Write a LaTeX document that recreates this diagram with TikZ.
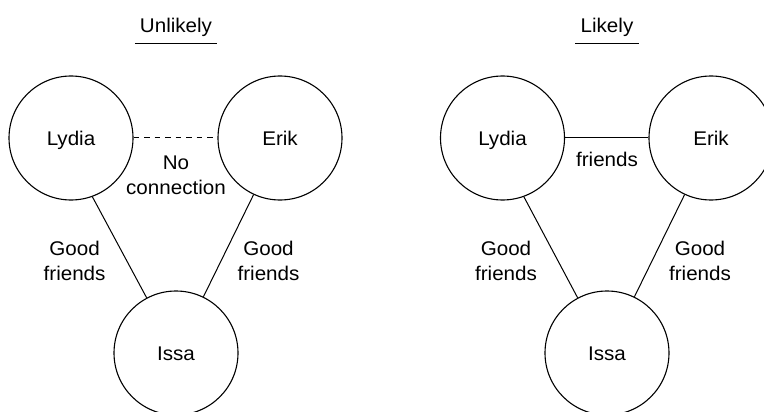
\documentclass[tikz,border=0pt]{standalone}
\usepackage{fontspec}
\setmainfont[FakeStretch=1.04]{Liberation Sans}
\begin{document}
\begin{tikzpicture}[x=1pt,y=-1pt,
  every node/.style={font=\fontsize{19.8pt}{25pt}\selectfont},
  pers/.style={circle,draw,line width=1.1pt,minimum size=124pt,inner sep=0pt,text height=14.2pt,text depth=0pt},
  edge/.style={line width=1pt},
  lbl/.style={align=center,anchor=base,inner sep=0pt},
  ttl/.style={anchor=base,inner xsep=5pt,inner ysep=5.5pt,text depth=4.5pt}]
\useasboundingbox (0,0) rectangle (764,412);
% titles
\node[ttl] (t1) at (176,33) {Unlikely};
\draw[edge] (t1.south west) -- (t1.south east);
\node[ttl] (t2) at (607,33) {Likely};
\draw[edge] (t2.south west) -- (t2.south east);
% left group
\node[pers] (L1) at (71,138) {Lydia};
\node[pers] (E1) at (280,138) {Erik};
\node[pers] (I1) at (176,353) {Issa};
\draw[edge,dash pattern=on 5.5pt off 5pt] (L1.east) -- (E1.west);
\draw[edge] (L1.-70) -- (I1.118);
\draw[edge] (E1.-115) -- (I1.64);
\node[lbl] (n1) at (176,194) {No\\connection};
\node[lbl] (g1) at (74.6,280) {Good\\friends};
\node[lbl] (g2) at (268.5,280) {Good\\friends};
% right group
\node[pers] (L2) at (502.5,138) {Lydia};
\node[pers] (E2) at (711,138) {Erik};
\node[pers] (I2) at (607,353) {Issa};
\draw[edge] (L2.east) -- (E2.west);
\draw[edge] (L2.-70) -- (I2.118);
\draw[edge] (E2.-115) -- (I2.64);
\node[lbl] (f2) at (607,166.7) {friends};
\node[lbl] (g3) at (506,280) {Good\\friends};
\node[lbl] (g4) at (700,280) {Good\\friends};
\end{tikzpicture}
\end{document}
